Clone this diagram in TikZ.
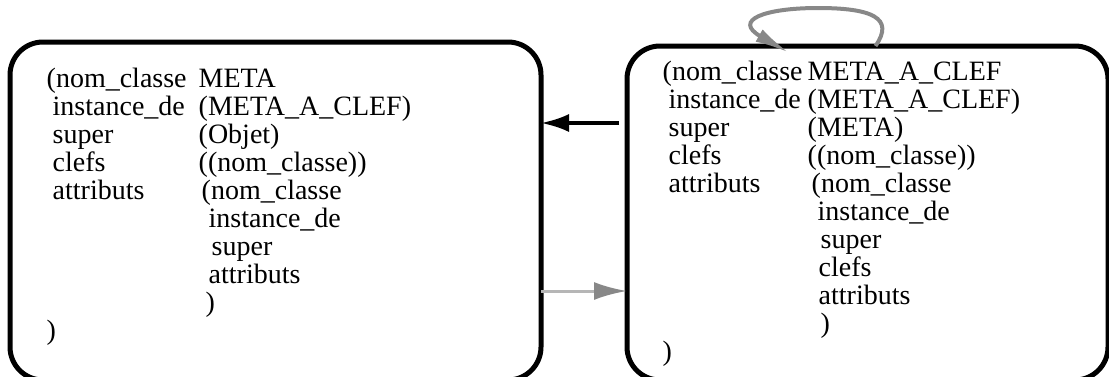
\documentclass[tikz,border=0pt]{standalone}
\usepackage{fontspec}
\setmainfont{Liberation Serif}
\usepackage{xcolor}
\usetikzlibrary{arrows.meta}
\usetikzlibrary{math}
\definecolor{mygray}{RGB}{136,136,136}
\definecolor{mylightgray}{RGB}{182,182,182}
\newcommand{\champ}[2]{\makebox[0pt][l]{\hspace*{#1pt}#2}}

\begin{document}
\begin{tikzpicture}[x=1pt,y=-1pt,
classbox/.style={draw, line width=5pt, rounded corners=33pt, inner sep=0pt, outer sep=0pt, anchor=north west},
fields/.style={inner sep=0pt, anchor=base west, font=\fontsize{28}{28}\selectfont}]
\tikzmath{
\dx=6;
}
\useasboundingbox (0,0) rectangle (1109,376);

%boxes
\node[classbox, minimum width=531pt, minimum height=338pt] (meta) at (10,42) {};
\node[classbox, minimum width=481pt, minimum height=334pt] (metaclef) at (627,46) {};

%texts
\node[fields] (metatxt) at (46,87) {\begin{tabular}[t]{@{}l@{}}
\champ{0}{(nom\_classe}\champ{152}{META}\\
\champ{\dx}{instance\_de}\champ{152}{(META\_A\_CLEF)}\\
\champ{\dx}{super}\champ{152}{(Objet)}\\
\champ{\dx}{clefs}\champ{152}{((nom\_classe))}\\
\champ{\dx}{attributs}\champ{155}{(nom\_classe}\\
\champ{162}{instance\_de}\\
\champ{165}{super}\\
\champ{162}{attributs}\\
\champ{159}{)}\\
\champ{0}{)}
\end{tabular}};

\node[fields] (metacleftxt) at (662,80) {\begin{tabular}[t]{@{}l@{}}
\champ{0}{(nom\_classe}\champ{145}{META\_A\_CLEF}\\
\champ{\dx}{instance\_de}\champ{145}{(META\_A\_CLEF)}\\
\champ{\dx}{super}\champ{145}{(META)}\\
\champ{\dx}{clefs}\champ{145}{((nom\_classe))}\\
\champ{\dx}{attributs}\champ{149}{(nom\_classe}\\
\champ{155}{instance\_de}\\
\champ{158}{super}\\
\champ{156}{clefs}\\
\champ{156}{attributs}\\
\champ{158}{)}\\
\champ{0}{)}
\end{tabular}};

%arrows
\draw[line width=3.5pt, -{Latex[length=28pt,width=18pt]}] ([xshift=-8pt,yshift=90pt]metaclef.west) -- ([yshift=88pt]meta.east);
\draw[mylightgray, line width=3pt, -{Latex[length=33pt,width=18pt,color=mygray]}] ([yshift=-80pt]meta.east) -- ([yshift=-78pt]metaclef.west);

%loop
\draw[mygray, line width=4pt, -{Latex[length=35pt,width=14pt]}] ([xshift=8pt]metaclef.north) .. controls (895,18) and (872,8) .. (818,8) .. controls (765,8) and (732,20) .. ([xshift=-78pt,yshift=-7pt]metaclef.north);
\end{tikzpicture}
\end{document}
